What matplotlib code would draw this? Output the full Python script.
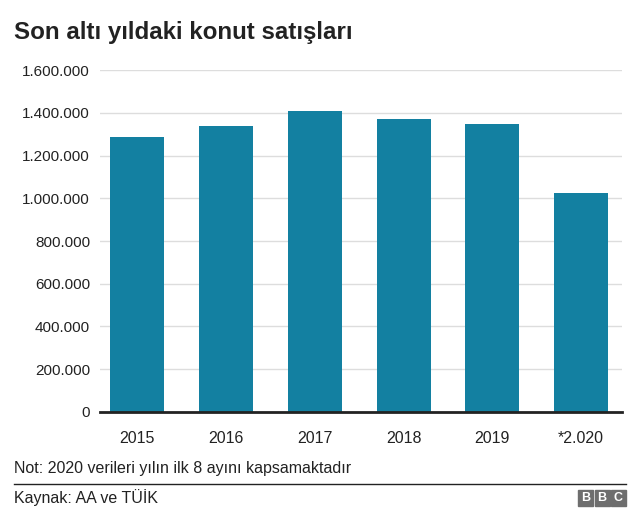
import matplotlib.pyplot as plt
from matplotlib.patches import Rectangle
from matplotlib.ticker import FuncFormatter

plt.rcParams['font.family'] = ['Liberation Sans', 'DejaVu Sans']

years = ["2015", "2016", "2017", "2018", "2019", "*2.020"]
sales = [1289000, 1341000, 1409000, 1373000, 1346000, 1024000]
yticks = [0, 200000, 400000, 600000, 800000, 1000000, 1200000, 1400000, 1600000]

fig = plt.figure(figsize=(6.4, 5.28), dpi=100)
ax = fig.add_axes([0.156, 0.22, 0.816, 0.647])

ax.bar(range(len(years)), sales, width=0.61, color="#1380a1", zorder=3)
ax.set_xlim(-0.42, 5.46)
ax.set_ylim(0, 1600000)
ax.set_yticks(yticks)
ax.yaxis.set_major_formatter(FuncFormatter(lambda v, p: f"{int(v):,}".replace(",", ".")))
ax.set_xticks(range(len(years)))
ax.set_xticklabels(years)
ax.grid(axis="y", color="#dddddd", linewidth=1, zorder=0)
for s in ["top", "right", "left"]:
    ax.spines[s].set_visible(False)
ax.spines["bottom"].set_color("#222222")
ax.spines["bottom"].set_linewidth(2)
ax.spines["bottom"].set_zorder(4)
ax.tick_params(axis="y", length=0, labelsize=11, colors="#222222", pad=7)
ax.tick_params(axis="x", length=0, labelsize=11.5, colors="#222222", pad=14)

fig.text(0.022, 0.938, "Son altı yıldaki konut satışları", fontsize=17.4,
         fontweight="bold", color="#222222", va="center")
fig.text(0.022, 0.113, "Not: 2020 verileri yılın ilk 8 ayını kapsamaktadır",
         fontsize=11.5, color="#222222", va="center")
fig.add_artist(plt.Line2D([0.022, 0.978], [0.083, 0.083], color="#222222", linewidth=1))
fig.text(0.022, 0.057, "Kaynak: AA ve TÜİK", fontsize=11.5, color="#222222", va="center")

# BBC logo
for i, letter in enumerate("BBC"):
    x0 = 578 + i * 16.5
    fig.add_artist(Rectangle((x0 / 640, 22 / 528), 15 / 640, 16 / 528,
                             transform=fig.transFigure, color="#6e6e6e"))
    fig.text((x0 + 7.5) / 640, 30 / 528, letter, color="white", fontsize=9,
             fontweight="bold", ha="center", va="center")

fig.savefig("out.png", dpi=100)
